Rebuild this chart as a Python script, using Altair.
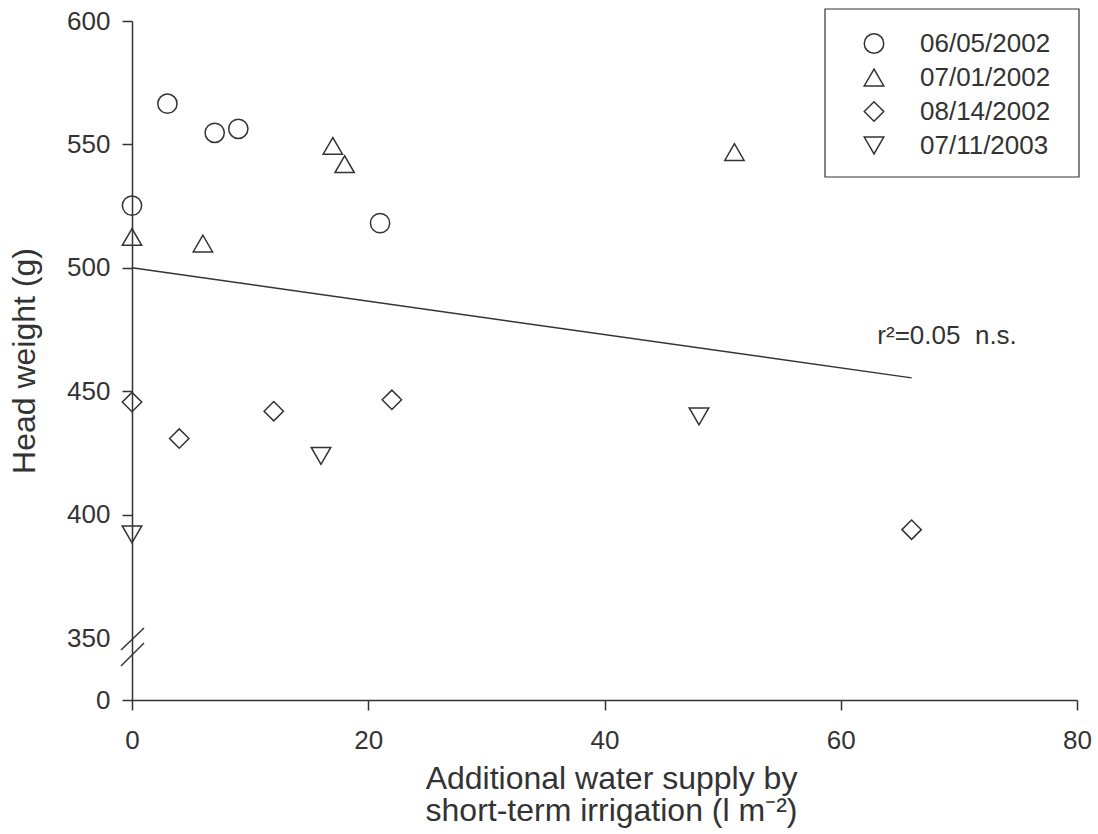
import altair as alt
import pandas as pd

# ---- data ----
series_names = ["06/05/2002", "07/01/2002", "08/14/2002", "07/11/2003"]
series_shapes = ["circle", "triangle-up", "diamond", "triangle-down"]
series_sizes = [370, 380, 450, 380]

x_0605 = [0, 3, 7, 9, 21]
y_0605 = [525.2, 566.5, 554.7, 556.3, 518.1]
x_0701 = [0, 6, 17, 18, 51]
y_0701 = [512.5, 509.8, 549.4, 542.0, 546.9]
x_0814 = [0, 4, 12, 22, 66]
y_0814 = [445.6, 430.8, 441.9, 446.5, 393.9]
x_0711 = [0, 16, 48]
y_0711 = [392.0, 423.8, 439.8]

fit_x = [0, 66]
fit_y = [500.0, 455.4]

annot_text = ["r\u00b2=0.05\u00a0\u00a0n.s."]
annot_x = [63.1]
annot_y = [469]

x_ticks = [0, 20, 40, 60, 80]
y_ticks = [0, 350, 400, 450, 500, 550, 600]

x_title = ["Additional water supply by", "short-term irrigation (l m\u207b\u00b2)"]
y_title = "Head weight (g)"

FONT = "Liberation Sans"
INK = "#333333"

# ---- tables ----
rows = []
for name, xs, ys in zip(series_names,
                        [x_0605, x_0701, x_0814, x_0711],
                        [y_0605, y_0701, y_0814, y_0711]):
    for xv, yv in zip(xs, ys):
        rows.append({"series": name, "size_key": name, "x": xv, "y": yv})
points_df = pd.DataFrame(rows)
fit_df = pd.DataFrame({"x": fit_x, "y": fit_y})
annot_df = pd.DataFrame({"x": annot_x, "y": annot_y, "label": annot_text})

W, H = 945, 679

x_scale = alt.Scale(domain=[0, 80], nice=False, zero=False)
y_scale = alt.Scale(domain=[0, 350, 600], range=[H, 617, 0], nice=False, zero=False)

x_axis = alt.Axis(values=x_ticks, title=x_title, labelPadding=17, titlePadding=10,
                  titleLineHeight=32, labelFlush=False, titleX=479)
y_axis = alt.Axis(values=y_ticks, title=y_title, labelPadding=12, titlePadding=25,
                  labelOverlap=False,
                  tickOpacity={"condition": {"test": "datum.value == 350", "value": 0}, "value": 1})

X = alt.X("x:Q", scale=x_scale, axis=x_axis)
Y = alt.Y("y:Q", scale=y_scale, axis=y_axis)

points = alt.Chart(points_df).mark_point(filled=False, color=INK, strokeWidth=1.5, opacity=1).encode(
    x=X,
    y=Y,
    shape=alt.Shape("series:N",
                    scale=alt.Scale(domain=series_names, range=series_shapes),
                    legend=None),
    size=alt.Size("size_key:N", scale=alt.Scale(domain=series_names, range=series_sizes),
                  legend=None),
)

fit = alt.Chart(fit_df).mark_line(color=INK, strokeWidth=1.5).encode(x=X, y=Y)

annot = alt.Chart(annot_df).mark_text(align="left", baseline="alphabetic", font=FONT,
                                      fontSize=26, color=INK).encode(x=X, y=Y, text="label:N")

slash1 = alt.Chart(alt.Data(values=[{}])).mark_rule(color=INK, strokeWidth=1.5).encode(
    x=alt.value(-11), x2=alt.value(12), y=alt.value(629), y2=alt.value(607))
slash2 = alt.Chart(alt.Data(values=[{}])).mark_rule(color=INK, strokeWidth=1.5).encode(
    x=alt.value(-11), x2=alt.value(12), y=alt.value(645), y2=alt.value(622))

# ---- legend (boxed, top right), laid out in pixels relative to the plot area ----
LEG_X0, LEG_Y0, LEG_W, LEG_H = 693, -12, 254, 168
ROW0, ROW_STEP = 34.5, 34
legend_df = pd.DataFrame({
    "label": series_names,
    "shape": series_shapes,
    "size": [380] * len(series_names),
    "sx": [LEG_X0 + 49] * len(series_names),
    "tx": [LEG_X0 + 95] * len(series_names),
    "ly": [LEG_Y0 + ROW0 + i * ROW_STEP for i in range(len(series_names))],
})

legend_box = alt.Chart(alt.Data(values=[{}])).mark_rect(
    fill="white", stroke=INK, strokeWidth=1.2).encode(
    x=alt.value(LEG_X0), x2=alt.value(LEG_X0 + LEG_W),
    y=alt.value(LEG_Y0), y2=alt.value(LEG_Y0 + LEG_H))

legend_syms = alt.Chart(legend_df).mark_point(filled=False, color=INK, strokeWidth=1.5,
                                              opacity=1).encode(
    x=alt.X("sx:Q", scale=None, axis=None),
    y=alt.Y("ly:Q", scale=None, axis=None),
    shape=alt.Shape("shape:N", scale=None, legend=None),
    size=alt.Size("size:Q", scale=None, legend=None),
)

legend_text = alt.Chart(legend_df).mark_text(align="left", baseline="middle", font=FONT,
                                             fontSize=26, color=INK).encode(
    x=alt.X("tx:Q", scale=None, axis=None),
    y=alt.Y("ly:Q", scale=None, axis=None),
    text="label:N",
)

chart = alt.layer(points, fit, annot, slash1, slash2,
                  legend_box, legend_syms, legend_text).properties(
    width=W, height=H,
    padding={"left": 132, "top": 21, "right": 21, "bottom": 134},
    autosize=alt.AutoSizeParams(type="none"),
    background="white",
).configure_view(stroke=None).configure_axis(
    grid=False, domainColor=INK, domainWidth=1.5, tickColor=INK, tickWidth=1.5, tickSize=10,
    labelFont=FONT, labelFontSize=26, labelColor=INK,
    titleFont=FONT, titleFontSize=32, titleColor=INK, titleFontWeight="normal",
)

chart.save("out.html", embed_options={"renderer": "svg", "actions": False})
